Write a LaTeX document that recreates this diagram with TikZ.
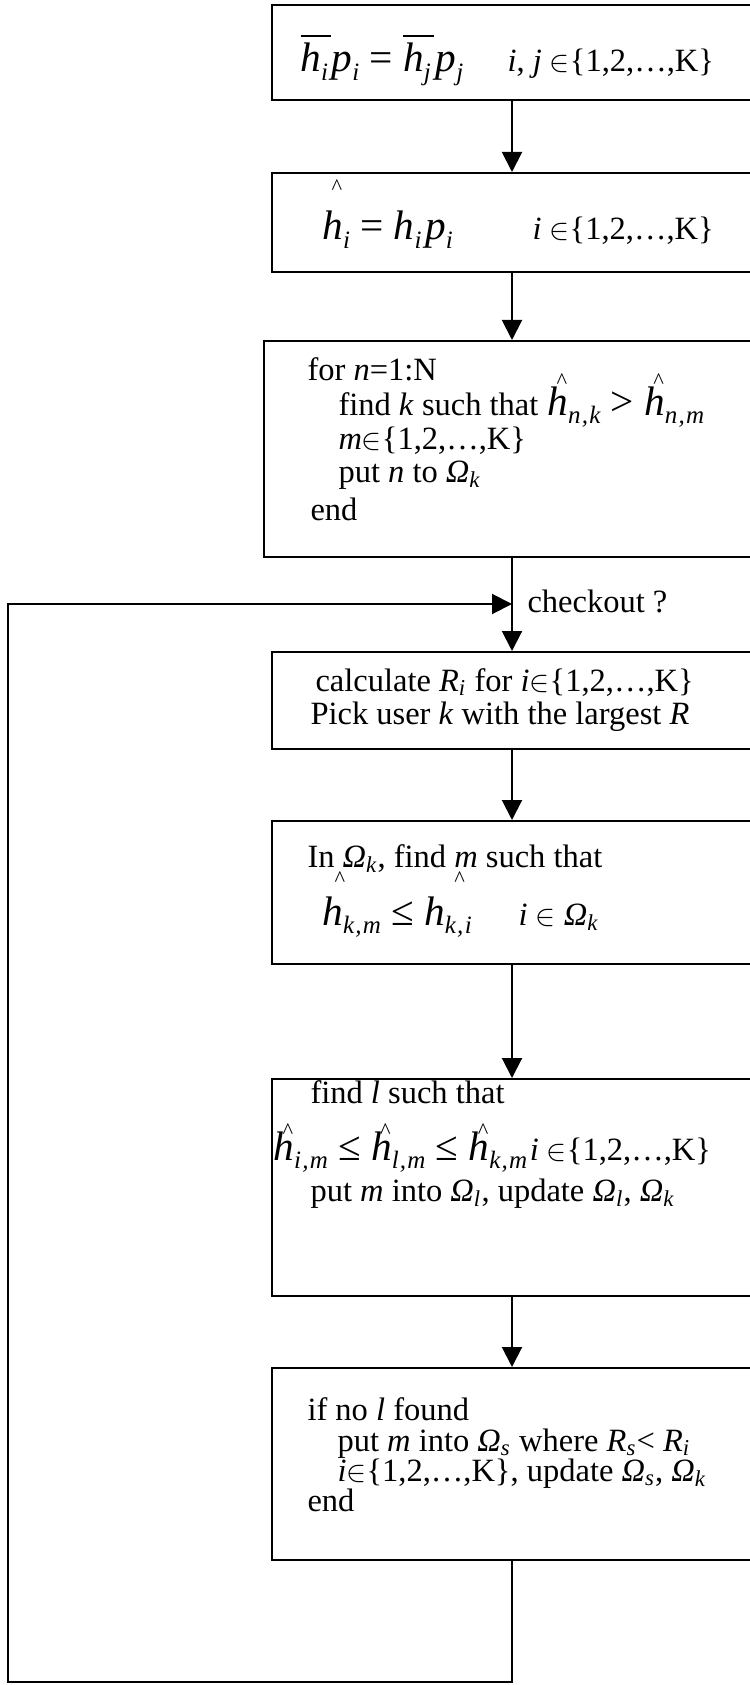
\documentclass[tikz,border=0pt]{standalone}
\usepackage{fontspec}
\setmainfont{Liberation Serif}
\usetikzlibrary{arrows.meta,fit}
\newcommand\It[1]{\textit{#1}}
\newcommand\sub[1]{\textsubscript{\itshape #1}}
\newcommand\bsub[1]{\raisebox{-3.5pt}{\fontsize{10}{10}\selectfont\itshape #1}}
\newcommand\Om{\textit{Ω}}
\newcommand\cm{\kern0.05em,\kern0.05em}
\newcommand\hcar[1][10.5pt]{\leavevmode\rlap{\raisebox{#1}{\kern0.22em\fontsize{9}{9}\selectfont\textasciicircum}}\textit{h}}
\newcommand\lowcar{\rlap{\raisebox{-7.9pt}{\fontsize{9}{9}\selectfont\textasciicircum}}}
\newcommand\hb[1]{\setbox0\hbox{\textit{h}\bsub{#1}}\rlap{\raisebox{14pt}{\rule{1.1\wd0}{0.7pt}}}\box0}
\newcommand\set{$\in$\{1,2,…,K\}}
\tikzset{
  box/.style={draw, line width=0.8pt, inner sep=0pt},
  txt/.style={anchor=base west, inner sep=0pt, font=\fontsize{13}{15}\selectfont},
  bigf/.style={anchor=base west, inner sep=0pt, font=\fontsize{16.5}{19}\selectfont},
  arr/.style={line width=0.8pt, -{Triangle[length=8pt,width=8pt]}}
}
\begin{document}
\begin{tikzpicture}[x=0.4pt,y=-0.4pt]
\useasboundingbox (0,0) rectangle (749,1685);
% boxes
\node[box, fit={(272,5) (800,100)}] (b1) {};
\node[box, fit={(272,173) (800,272)}] (b2) {};
\node[box, fit={(264,341) (800,557)}] (b3) {};
\node[box, fit={(272,652) (800,749)}] (b4) {};
\node[box, fit={(272,821) (800,964)}] (b5) {};
\node[box, fit={(272,1079) (800,1296)}] (b6) {};
\node[box, fit={(272,1368) (800,1560)}] (b7) {};
% texts
\node[bigf] (t1a) at (300,72) {\hb{i}\kern1.5pt\It{p}\bsub{i} = \hb{j}\kern2pt\It{p}\bsub{j}};
\node[txt] (t1b) at (507,72) {\It{i}, \It{j} \set};
\node[bigf] (t2a) at (322,240) {\hcar[18pt]\bsub{i} = \It{h}\bsub{i}\kern1.5pt\It{p}\bsub{i}};
\node[txt] (t2b) at (532,240) {\It{i} \set};
\node[txt] (t3a) at (307,380) {for \It{n}=1:N};
\node[txt] (t3b) at (338,415) {find \It{k} such that};
\node[bigf] (t3c) at (547,415) {\hcar\bsub{n\cm k} > \hcar\bsub{n\cm m}};
\node[txt] (t3d) at (338,449) {\It{m}\set};
\node[txt] (t3e) at (338,482) {put \It{n} to \Om\sub{k}};
\node[txt] (t3f) at (310,520) {end};
\node[txt] (t4a) at (315,691) {calculate \It{R}\sub{i} for \It{i}\set};
\node[txt] (t4b) at (310,724) {Pick user \It{k} with the largest \It{R}};
\node[txt] (t5a) at (307,867) {In\lowcar\ \Om\sub{k}, find \lowcar\It{m} such that};
\node[bigf] (t5b) at (322,925) {\It{h}\bsub{k\cm m} ≤ \It{h}\bsub{k\cm i}};
\node[txt] (t5c) at (518,925) {\It{i} $\in$ \Om\sub{k}};
\node[txt] (t6a) at (310,1103) {find \It{l} such that};
\node[bigf] (t6b) at (273,1160) {\hcar[8.6pt]\bsub{i\cm m} ≤ \hcar[8.6pt]\bsub{l\cm m} ≤ \hcar[8.6pt]\bsub{k\cm m}\kern1pt{\fontsize{13}{15}\selectfont\It{i} \set}};
\node[txt] (t6c) at (310,1201) {put \It{m} into \Om\sub{l}, update \Om\sub{l}, \Om\sub{k}};
\node[txt] (t7a) at (307,1420) {if no \It{l} found};
\node[txt] (t7b) at (337,1451) {put \It{m} into \Om\sub{s} where \It{R}\sub{s}< \It{R}\sub{i}};
\node[txt] (t7c) at (337,1481) {\It{i}\set, update \Om\sub{s}, \Om\sub{k}};
\node[txt] (t7d) at (307,1511) {end};
\node[txt] (chk) at (527,612) {checkout ?};
% connectors
\coordinate (mx) at (512,0);
\coordinate (j) at (512,604);
\coordinate (ll) at (8,1682);
\draw[arr] (b1.south -| mx) -- (b2.north -| mx);
\draw[arr] (b2.south -| mx) -- (b3.north -| mx);
\draw[arr] (b3.south -| mx) -- (b4.north -| mx);
\draw[arr] (b4.south -| mx) -- (b5.north -| mx);
\draw[arr] (b5.south -| mx) -- (b6.north -| mx);
\draw[arr] (b6.south -| mx) -- (b7.north -| mx);
\draw[arr] (b7.south -| mx) |- (ll) |- (j);
\end{tikzpicture}
\end{document}
